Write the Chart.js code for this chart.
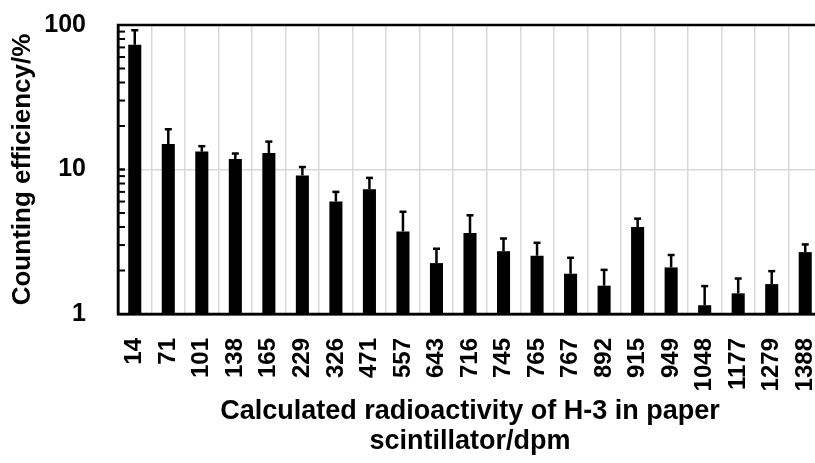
<!DOCTYPE html>
<html>
<head>
<meta charset="utf-8">
<script src="https://cdn.jsdelivr.net/npm/chart.js@4"></script>
<style>
  html, body { margin: 0; padding: 0; background: #fff; overflow: hidden; }
  #wrap { width: 815px; height: 463px; overflow: hidden; }
</style>
</head>
<body>
<div id="wrap"><canvas id="chart" width="824" height="463"></canvas></div>
<script>
// calculated radioactivity (dpm) - categories
const activity = ['14', '71', '101', '138', '165', '229', '326', '471', '557', '643', '716',
  '745', '765', '767', '892', '915', '949', '1048', '1177', '1279', '1388'];
// counting efficiency (%)
const efficiency = [73, 15.0, 13.3, 11.8, 13.0, 9.1, 6.0, 7.3, 3.73, 2.25, 3.63,
  2.72, 2.53, 1.90, 1.57, 4.0, 2.10, 1.15, 1.39, 1.61, 2.68];
// upper error (%)
const errorPlus = [19, 4.0, 1.2, 1.1, 2.6, 1.3, 1.0, 1.45, 1.37, 0.58, 1.19,
  0.61, 0.58, 0.55, 0.45, 0.57, 0.46, 0.41, 0.37, 0.37, 0.35];
const majorTicks = [1, 10, 100];

const FONT = 'Liberation Sans, Arial, sans-serif';

// error bars, frame and inward minor ticks
const extrasPlugin = {
  id: 'extras',
  afterDatasetsDraw(chart) {
    const ctx = chart.ctx;
    const y = chart.scales.y;
    const area = chart.chartArea;
    const meta = chart.getDatasetMeta(0);

    ctx.save();
    ctx.strokeStyle = '#000';
    ctx.lineCap = 'butt';
    meta.data.forEach((bar, i) => {
      const top = y.getPixelForValue(efficiency[i] + errorPlus[i]);
      ctx.lineWidth = 2.5;
      ctx.beginPath();
      ctx.moveTo(bar.x, bar.y);
      ctx.lineTo(bar.x, top);
      ctx.stroke();
      ctx.beginPath();
      ctx.moveTo(bar.x - 3.5, top);
      ctx.lineTo(bar.x + 3.5, top);
      ctx.stroke();
    });

    // minor ticks on the left axis, pointing inward
    ctx.lineWidth = 2;
    for (let dec = 1; dec <= 10; dec *= 10) {
      for (let k = 1; k <= 10; k++) {
        const py = y.getPixelForValue(dec * k);
        ctx.beginPath();
        ctx.moveTo(area.left, py);
        ctx.lineTo(area.left + 7, py);
        ctx.stroke();
      }
    }

    // plot frame
    ctx.lineWidth = 2.5;
    ctx.strokeRect(area.left, area.top, area.right - area.left, area.bottom - area.top);
    ctx.restore();
  }
};

new Chart(document.getElementById('chart'), {
  type: 'bar',
  data: {
    labels: activity,
    datasets: [{
      data: efficiency,
      backgroundColor: '#000',
      borderWidth: 0,
      barPercentage: 0.39,
      categoryPercentage: 1.0
    }]
  },
  options: {
    responsive: false,
    animation: false,
    layout: { padding: { top: 25, right: 2, bottom: 0, left: 0 } },
    plugins: {
      legend: { display: false },
      tooltip: { enabled: false }
    },
    scales: {
      x: {
        grid: { color: '#d9d9d9', lineWidth: 1.5, drawTicks: false, offset: true },
        border: { display: true, color: '#000', width: 2.5 },
        ticks: {
          color: '#000',
          font: { family: FONT, size: 24, weight: 'bold' },
          minRotation: 90,
          maxRotation: 90,
          autoSkip: false,
          padding: 24
        },
        title: {
          display: true,
          text: ['Calculated radioactivity of H-3 in paper', 'scintillator/dpm'],
          color: '#000',
          font: { family: FONT, size: 27, weight: 'bold', lineHeight: 1.11 },
          padding: { top: 0, bottom: 6 }
        },
        afterFit(scale) {
          scale.height = 149;
          scale.paddingLeft = 0;
          scale.paddingRight = 0;
        }
      },
      y: {
        type: 'logarithmic',
        min: 1,
        max: 100,
        grid: {
          color: (c) => (c.tick && c.tick.value === 10 ? '#d9d9d9' : 'rgba(0,0,0,0)'),
          lineWidth: 1.5,
          drawTicks: false
        },
        border: { display: true, color: '#000', width: 2.5 },
        ticks: {
          color: '#000',
          font: { family: FONT, size: 25, weight: 'bold' },
          autoSkip: false,
          padding: 32,
          callback: (v) => (majorTicks.includes(v) ? String(v) : '')
        },
        title: {
          display: true,
          text: 'Counting efficiency/%',
          color: '#000',
          font: { family: FONT, size: 26, weight: 'bold', lineHeight: 1.2 },
          padding: { top: 7, bottom: 0 }
        },
        afterFit(scale) {
          scale.width = 118;
          scale.paddingTop = 0;
          scale.paddingBottom = 0;
        }
      }
    }
  },
  plugins: [extrasPlugin]
});
</script>
</body>
</html>
